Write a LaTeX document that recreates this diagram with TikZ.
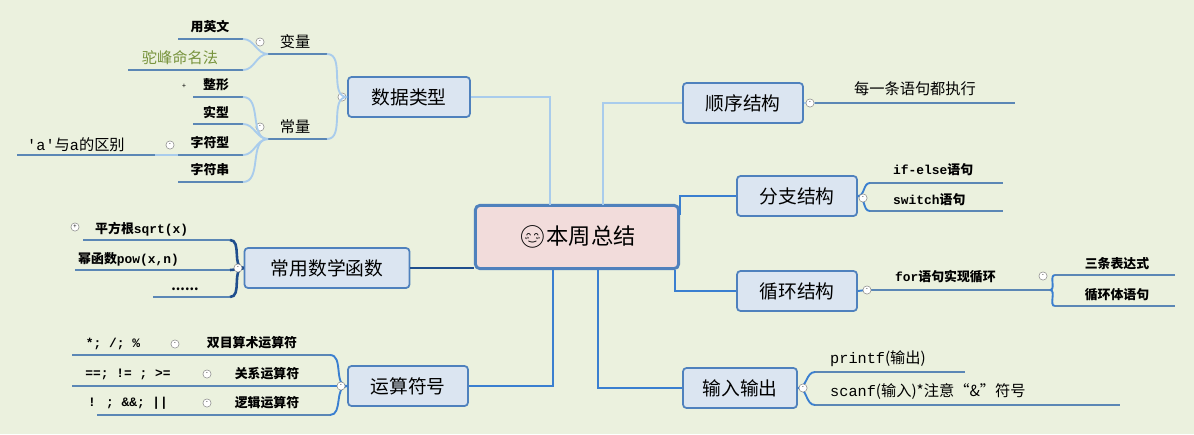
\documentclass[tikz,border=0pt]{standalone}
\usepackage{fontspec}
\setmainfont{Noto Sans CJK SC}
\newfontfamily\mono{Liberation Mono}
\newfontfamily\emo{Noto Emoji}
\begin{document}
\begin{tikzpicture}[x=0.03cm,y=-0.03cm,
 box/.style={draw=cBord,fill=cBox,line width=1.5pt,rounded corners=3pt,minimum height=1.2cm,inner xsep=4pt,font=\fontsize{16}{16}\selectfont},
 lf/.style={font=\fontsize{11}{11}\selectfont\bfseries,inner sep=0pt},
 mf/.style={font=\fontsize{13}{13}\selectfont,inner sep=0pt},
 ul/.style={draw=cUl,line width=2.2pt},
 lb/.style={draw=cLight,line width=1.6pt},
 mb/.style={draw=cMid,line width=1.6pt},
 db/.style={draw=cDark,line width=2.2pt},
 tog/.style={circle,draw=gray,fill=white,inner sep=0pt,minimum size=7pt,font=\fontsize{5}{5}\selectfont}]
\definecolor{cBg}{HTML}{EBF1DE}
\definecolor{cBox}{HTML}{DBE5F1}
\definecolor{cBord}{HTML}{4F81BD}
\definecolor{cUl}{HTML}{5B87B5}
\definecolor{cLight}{HTML}{A9CCEC}
\definecolor{cMid}{HTML}{3A7FD0}
\definecolor{cDark}{HTML}{1F4E8D}
\definecolor{cGreen}{HTML}{77933C}
\definecolor{cPink}{HTML}{F2DCDB}
\fill[cBg] (0,0) rectangle (1194,434);
\useasboundingbox (0,0) rectangle (1194,434);
% center
\node[draw=cBord,fill=cPink,line width=2.5pt,rounded corners=4pt,minimum width=6.1cm,minimum height=1.9cm,font=\fontsize{19}{19}\selectfont] (c) at (577,237) {{\emo 😊}本周总结};
% main boxes
\node[box,minimum width=3.66cm] (dt) at (409,97) {数据类型};
\node[box,minimum width=4.95cm] (fn) at (327,268) {常用数学函数};
\node[box,minimum width=3.6cm] (op) at (408,386) {运算符号};
\node[box,minimum width=3.6cm] (sx) at (743,103) {顺序结构};
\node[box,minimum width=3.6cm] (fz) at (797,196) {分支结构};
\node[box,minimum width=3.6cm] (xh) at (797,291) {循环结构};
\node[box,minimum width=3.42cm] (io) at (740,388) {输入输出};
% center connectors
\draw[lb] (dt.east) -- (550,97) -- (550,205);
\draw[lb] (603,205) -- (603,103) -- (sx.west);
\draw[mb] (680,215) -- (680,196) -- (fz.west);
\draw[mb] (675,270) -- (675,291) -- (xh.west);
\draw[mb] (598,270) -- (598,388) -- (io.west);
\draw[mb] (553,270) -- (553,386) -- (op.east);
\draw[db] (c.west |- fn.east) -- (fn.east);
% ---- right leaves
\coordinate (sxa) at (815,103); \coordinate (sxb) at (1015,103);
\draw[ul] (sxa) -- (sxb);
\draw[lb] (sx.east) -- (sxa);
\node[tog] at (810,103) {-};
\node[mf] (t1) at (915,89) {每一条语句都执行};
\coordinate (fa) at (870,183); \coordinate (fb) at (1003,183);
\coordinate (fc) at (870,211); \coordinate (fd) at (1003,211);
\draw[ul] (fa)--(fb); \draw[ul] (fc)--(fd);
\draw[mb] (fz.east) to[out=0,in=180] (fa); \draw[mb] (fz.east) to[out=0,in=180] (fc);
\node[tog] at (863,198) {-};
\node[lf,anchor=base west] (ie) at (893,174) {{\mono if-else}语句};
\node[lf,anchor=base west] (sw) at (893,204) {{\mono switch}语句};
\coordinate (xa) at (866,290); \coordinate (xb) at (1050,290);
\draw[ul] (xa)--(xb); \draw[mb] (xh.east) -- (xa);
\node[tog] at (867,290) {-};
\node[lf,anchor=base west] (fr) at (895,281) {{\mono for}语句实现循环};
\node[tog] at (1043,276) {-};
\coordinate (ya) at (1055,275); \coordinate (yb) at (1175,275);
\coordinate (yc) at (1055,306); \coordinate (yd) at (1175,306);
\draw[ul] (ya)--(yb); \draw[ul] (yc)--(yd);
\draw[mb] (xb) to[out=0,in=180] (ya); \draw[mb] (xb) to[out=0,in=180] (yc);
\node[lf] (sb) at (1117,264) {三条表达式};
\node[lf] (xt) at (1117,295) {循环体语句};
\coordinate (pa) at (815,372); \coordinate (pb) at (965,372);
\coordinate (pc) at (815,405); \coordinate (pd) at (1120,405);
\draw[ul] (pa)--(pb); \draw[ul] (pc)--(pd);
\draw[mb] (io.east) to[out=0,in=180] (pa); \draw[mb] (io.east) to[out=0,in=180] (pc);
\node[tog] at (803,388) {-};
\node[mf,anchor=base west] (pf) at (830,363) {{\mono printf}(输出)};
\node[mf,anchor=base west] (sf) at (830,396) {{\mono scanf}(输入)*注意“\&”符号};
% ---- 数据类型
\node[tog] at (342,97) {-};
\coordinate (bla) at (268,54); \coordinate (blb) at (327,54);
\coordinate (cla) at (268,139); \coordinate (clb) at (327,139);
\draw[ul] (bla)--(blb); \draw[ul] (cla)--(clb);
\draw[lb] (dt.west) to[out=180,in=0] (blb); \draw[lb] (dt.west) to[out=180,in=0] (clb);
\node[mf] (bl) at (295,42) {变量};
\node[mf] (cl) at (295,127) {常量};
\node[tog] at (260,42) {-};
\node[tog] at (260,127) {-};
\coordinate (a1) at (178,39); \coordinate (a1e) at (243,39);
\coordinate (a2) at (128,70); \coordinate (a2e) at (243,70);
\draw[ul] (a1)--(a1e); \draw[ul] (a2)--(a2e);
\draw[lb] (bla) to[out=180,in=0] (a1e); \draw[lb] (bla) to[out=180,in=0] (a2e);
\node[lf] (yw) at (210,27) {用英文};
\node[mf,text=cGreen] (tf) at (180,58) {驼峰命名法};
\coordinate (b1) at (193,97); \coordinate (b1e) at (243,97);
\coordinate (b2) at (193,124); \coordinate (b2e) at (243,124);
\coordinate (b3) at (178,155); \coordinate (b3e) at (243,155);
\coordinate (b4) at (178,182); \coordinate (b4e) at (243,182);
\foreach \p/\q in {b1/b1e,b2/b2e,b3/b3e,b4/b4e}{\draw[ul] (\p)--(\q); \draw[lb] (cla) to[out=180,in=0] (\q);}
\node[lf] (zx) at (216,85) {整形};
\node[lf] (sx2) at (216,112) {实型};
\node[lf] (zf) at (210,143) {字符型};
\node[lf] (zc) at (210,170) {字符串};
\node[font=\fontsize{6}{6}\selectfont] at (184,86) {+};
\coordinate (qa) at (17,155); \coordinate (qb) at (155,155);
\draw[ul] (qa)--(qb); \draw[lb] (qb)--(b3);
\node[tog] at (170,145) {-};
\node[mf,anchor=base west] (qt) at (27,150) {{\mono 'a'}与{\mono a}的区别};
% ---- 常用数学函数
\coordinate (f1) at (83,240); \coordinate (f1e) at (230,240);
\coordinate (f2) at (75,270); \coordinate (f2e) at (230,270);
\coordinate (f3) at (153,297); \coordinate (f3e) at (230,297);
\foreach \p/\q in {f1/f1e,f2/f2e,f3/f3e}{\draw[ul] (\p)--(\q); \draw[db] (fn.west) to[out=180,in=0] (\q);}
\node[tog] at (238,268) {-};
\node[tog] at (75,227) {+};
\node[lf,anchor=base west] (sq) at (95,233) {平方根{\mono sqrt(x)}};
\node[lf,anchor=base west] (pw) at (78,263) {幂函数{\mono pow(x,n)}};
\node[lf] (dd) at (185,289) {......};
% ---- 运算符号
\coordinate (o1) at (72,355); \coordinate (o1e) at (330,355);
\coordinate (o2) at (72,386); \coordinate (o2e) at (330,386);
\coordinate (o3) at (97,415); \coordinate (o3e) at (330,415);
\foreach \p/\q in {o1/o1e,o2/o2e,o3/o3e}{\draw[ul] (\p)--(\q); \draw[mb] (op.west) to[out=180,in=0] (\q);}
\node[tog] at (341,386) {-};
\node[lf] (s1) at (252,343) {双目算术运算符};
\node[lf] (s2) at (267,374) {关系运算符};
\node[lf] (s3) at (267,403) {逻辑运算符};
\node[lf] (k1) at (113,344) {\mono *; /; \%};
\node[lf] (k2) at (128,374) {\mono ==; != ; >=};
\node[lf] (k3) at (128,403) {\mono ! ; \&\&; ||};
\node[tog] at (175,344) {-};
\node[tog] at (207,374) {-};
\node[tog] at (207,403) {-};
\end{tikzpicture}
\end{document}
